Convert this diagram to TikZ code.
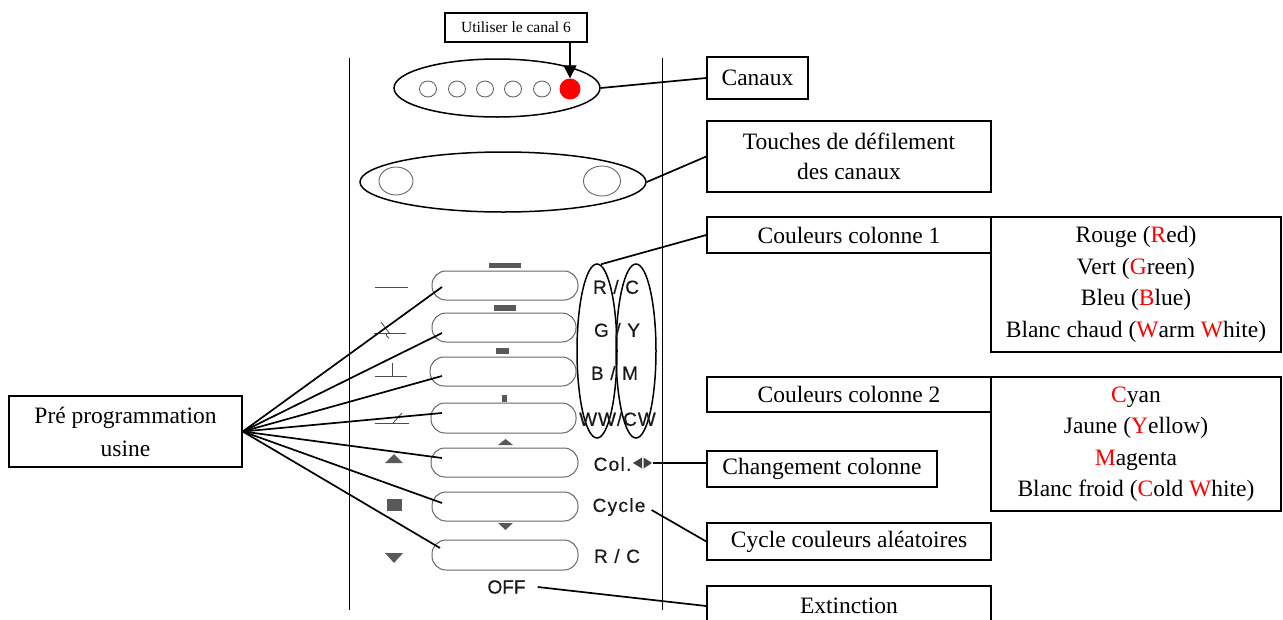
\documentclass[tikz,border=0pt]{standalone}
\usepackage{fontspec}
\setmainfont{Liberation Serif}
\setsansfont{Liberation Sans}
\newfontfamily\remfont[LetterSpace=7,FakeBold=0.4]{Liberation Sans}
\newfontfamily\remfontw[LetterSpace=5,FakeBold=0.4]{Liberation Sans}
\newfontfamily\remfontn[FakeBold=0.4]{Liberation Sans}
\usetikzlibrary{shapes.geometric,arrows.meta}
\tikzset{
  box/.style={draw, line width=1.5pt, rectangle, inner sep=0pt, align=center,
    font=\fontsize{23.5}{31.5}\selectfont},
  conn/.style={line width=1.7pt},
  btn/.style={draw=black!60, line width=1pt, rounded corners=14pt, rectangle, inner sep=0pt},
  ico/.style={draw=black!70, line width=0.9pt},
  lab/.style={font=\remfont\fontsize{19}{22}\selectfont, text=black!90, inner sep=0pt},
  rim/.style={draw, line width=1.5pt, ellipse, inner sep=0pt},
  led/.style={draw=black!60, line width=0.9pt, ellipse, inner sep=0pt},
}
\begin{document}
\begin{tikzpicture}[x=1pt,y=-1pt]
\useasboundingbox (0,0) rectangle (1283,619);
\clip (0,0) rectangle (1283,619);

% remote outline
\draw[line width=1pt] (349,58) -- (349,610);
\draw[line width=1pt] (662,58) -- (662,610);

% channel ellipse
\node[rim, minimum width=206pt, minimum height=58pt] (ch) at (497,88) {};
\foreach \i/\x in {1/428,2/457,3/485,4/513,5/542}
  \node[led, minimum width=17pt, minimum height=16pt] (l\i) at (\x,89) {};
\node[circle, fill=red, minimum size=21pt, inner sep=0pt] (rd) at (570,89) {};

% scroll ellipse
\node[rim, minimum width=286pt, minimum height=60pt] (sc) at (503,182) {};
\node[led, minimum width=34pt, minimum height=28pt] (sl) at (396,181) {};
\node[led, minimum width=37pt, minimum height=30pt] (sr) at (602,181) {};

% buttons
\node[btn, minimum width=146pt, minimum height=29pt] (b1) at (505,285.5) {};
\node[btn, minimum width=144pt, minimum height=29pt] (b2) at (504,327.5) {};
\node[btn, minimum width=146pt, minimum height=29pt] (b3) at (503,371.5) {};
\node[btn, minimum width=145pt, minimum height=30pt] (b4) at (503.5,418) {};
\node[btn, minimum width=147pt, minimum height=29pt] (b5) at (504.5,462.5) {};
\node[btn, minimum width=146pt, minimum height=29pt] (b6) at (505,506.5) {};
\node[btn, minimum width=146pt, minimum height=30pt] (b7) at (505,555) {};

% bars above buttons
\fill[black!65] (489,263) rectangle (521,268);
\fill[black!65] (494,305) rectangle (516,311);
\fill[black!65] (496,348) rectangle (509,354);
\fill[black!65] (502,395) rectangle (507,402);
% small triangles
\fill[black!65] (505.5,439) -- (513,445) -- (498,445) -- cycle;
\fill[black!65] (498,523) -- (513,523) -- (505.5,530) -- cycle;

% left icons
\draw[ico] (375,287) -- (408,287);
\draw[ico] (374,333) -- (406,333);
\draw[ico] (381,322) -- (390,334);
\draw[ico] (386,333) arc[start angle=180, end angle=120, radius=6];
\draw[ico] (375,376) -- (407,376);
\draw[ico] (392,363) -- (392,376);
\draw[ico] (375,423) -- (409,423);
\draw[ico] (393,423) -- (402,413);
\fill[black!65] (394,454) -- (403,463) -- (385,463) -- cycle;
\fill[black!65] (387,499) rectangle (402,511);
\fill[black!65] (385,553) -- (403,553) -- (394,563) -- cycle;

% column ellipses
\node[rim, minimum width=40pt, minimum height=174pt] (col1) at (597,351) {};
\node[rim, minimum width=40pt, minimum height=174pt] (col2) at (636,351) {};

% remote labels
\node[lab] (t1) at (616,287) {R / C};
\node[lab] (t2) at (617,330) {G / Y};
\node[lab] (t3) at (614.5,373) {B / M};
\node[lab, font=\remfontw\fontsize{19}{22}\selectfont] (t4) at (617.5,419) {WW/CW};
\node[lab] (col) at (612.5,464) {Col.};
\fill[black!75] (633,463) -- (642,457.5) -- (642,468.5) -- cycle;
\fill[black!75] (643.5,457.5) -- (652,463) -- (643.5,468.5) -- cycle;
\coordinate (colsym) at (653,463);
\node[lab] (cyc) at (619,507) {Cycle};
\node[lab] (t7) at (617,556) {R / C};
\node[lab, font=\remfontn\fontsize{19}{22}\selectfont] (off) at (506.5,587) {OFF};

% annotation boxes
\node[box, line width=1.2pt, minimum width=142pt, minimum height=29pt,
  font=\fontsize{15.5}{18}\selectfont] (util) at (516,27.5) {Utiliser le canal 6};
\node[box, minimum width=101pt, minimum height=42pt] (canaux) at (757.5,78) {Canaux};
\node[box, minimum width=284pt, minimum height=71pt, font=\fontsize{23.5}{30}\selectfont]
  (touch) at (849,156.5) {Touches de défilement\\des canaux};
\node[box, minimum width=284pt, minimum height=36pt] (cc1) at (849,235) {Couleurs colonne 1};
\node[box, minimum width=290pt, minimum height=135pt] (list1) at (1136,284.5)
  {Rouge (\textcolor{red}{R}ed)\\Vert (\textcolor{red}{G}reen)\\Bleu (\textcolor{red}{B}lue)\\Blanc chaud (\textcolor{red}{W}arm \textcolor{red}{W}hite)};
\node[box, minimum width=284pt, minimum height=35pt] (cc2) at (849,394.5) {Couleurs colonne 2};
\node[box, minimum width=290pt, minimum height=134pt] (list2) at (1136,444)
  {\textcolor{red}{C}yan\\Jaune (\textcolor{red}{Y}ellow)\\\textcolor{red}{M}agenta\\Blanc froid (\textcolor{red}{C}old \textcolor{red}{W}hite)};
\node[box, minimum width=230pt, minimum height=36pt] (change) at (822,469) {Changement colonne};
\node[box, minimum width=284pt, minimum height=37pt] (cycle) at (849,541.5) {Cycle couleurs aléatoires};
\node[box, minimum width=284pt, minimum height=40pt] (ext) at (849,606) {Extinction};
\node[box, minimum width=233pt, minimum height=71pt, font=\fontsize{23.5}{33}\selectfont]
  (pre) at (125.5,431.5) {Pré programmation\\usine};

% connector endpoints inside buttons
\coordinate (p1) at (442,287);
\coordinate (p2) at (442,333);
\coordinate (p3) at (442,376);
\coordinate (p4) at (442,413);
\coordinate (p5) at (442,458);
\coordinate (p6) at (442,503);
\coordinate (p7) at (440,548);

% connectors
\draw[line width=1.3pt, -{Triangle[length=13pt,width=13pt]}] (util.south -| rd.north) -- (rd.north);
\draw[conn] (ch.east) -- (canaux.west);
\draw[conn] (sc.east) -- (touch.west);
\draw[conn] ([xshift=4pt,yshift=-1pt]col1.north) -- (cc1.west);
\draw[conn] (colsym) -- (colsym -| change.west);
\draw[conn] ([shift={(6pt,-3pt)}]cyc.east) -- (cycle.west);
\draw[conn] ([xshift=12pt]off.east) -- (ext.west);
\foreach \i in {1,...,7}
  \draw[conn] (pre.east) -- (p\i);
\end{tikzpicture}
\end{document}
